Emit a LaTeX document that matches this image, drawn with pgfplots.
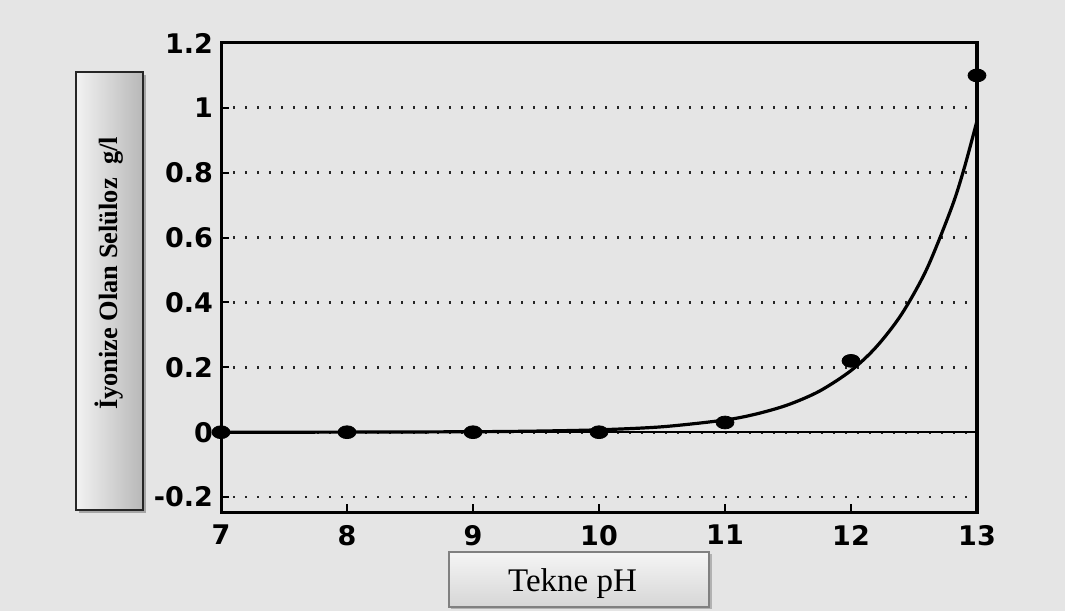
\documentclass[border=0pt]{standalone}
\usepackage{fontspec}
\usepackage{pgfplots}
\pgfplotsset{compat=1.18}
\newfontfamily\tickfont{DejaVu Sans}
\newfontfamily\timesfont{Liberation Serif}
\definecolor{bg}{RGB}{229,229,229}
\begin{document}
\begin{tikzpicture}[x=1pt,y=1pt]
\fill[bg] (0,0) rectangle (532.5,305.5);
% y label box
\fill[black!35] (39.5,49) rectangle (73,268);
\shadedraw[left color=white!95!black, right color=white!72!black, draw=black!85, line width=0.8pt] (38,50.5) rectangle (71.5,269.5);
\node[rotate=90, anchor=base, inner sep=0pt, font=\timesfont\bfseries\fontsize{13.2}{15}\selectfont] at (58.5,168.75) {İyonize Olan Selüloz\ \ g/l};
% x label box
\fill[black!30] (225.5,1) rectangle (356,28.5);
\shadedraw[top color=white!96!black, bottom color=white!84!black, draw=black!50, line width=0.6pt] (224.5,2) rectangle (354.5,29.5);
\node[anchor=base, inner sep=0pt, font=\timesfont\fontsize{16.5}{18}\selectfont] at (286.25,10) {Tekne pH};
\begin{axis}[
  at={(110.5pt,49.5pt)}, anchor=south west, scale only axis,
  width=378pt, height=234.5pt,
  xmin=7, xmax=13, ymin=-0.246, ymax=1.2,
  xtick={7,8,9,10,11,12,13},
  ytick={-0.2,0,0.2,0.4,0.6,0.8,1,1.2},
  yticklabels={-0.2,0,0.2,0.4,0.6,0.8,1,1.2},
  axis line style={line width=1.5pt, black},
  tick style={line width=1pt, black},
  tick align=inside, tick pos=left, major tick length=4pt,
  ymajorgrids, grid style={black!85, line width=1.4pt, dash pattern=on 1.1pt off 4.9pt},
  tick label style={font=\tickfont\bfseries\fontsize{13.5}{14}\selectfont},
  /pgf/number format/assume math mode=true,
  yticklabel style={xshift=-0.5pt},
  xticklabel style={yshift=-3pt},
  clip=false,
]
\addplot[line width=1pt, black] coordinates {(7,0) (13,0)};
\addplot[line width=1.6pt, black, smooth] coordinates {
(7,0.0001) (8,0.0003) (9,0.0015) (9.5,0.0034) (10,0.0074) (10.5,0.0167) (11,0.0376) (11.25,0.0564) (11.5,0.0845) (11.75,0.1267) (12,0.190) (12.2,0.2627) (12.4,0.363) (12.6,0.502) (12.8,0.694) (12.9,0.816) (13,0.96)};
\addplot[only marks, mark=*, mark size=3.2pt, mark options={xscale=1.4, fill=black, draw=black}] coordinates {
(7,0) (8,0) (9,0) (10,0) (11,0.03) (12,0.22) (13,1.1)};
\end{axis}
\pgfresetboundingbox
\path[use as bounding box] (0,0) rectangle (532.5,305.5);
\end{tikzpicture}
\end{document}
